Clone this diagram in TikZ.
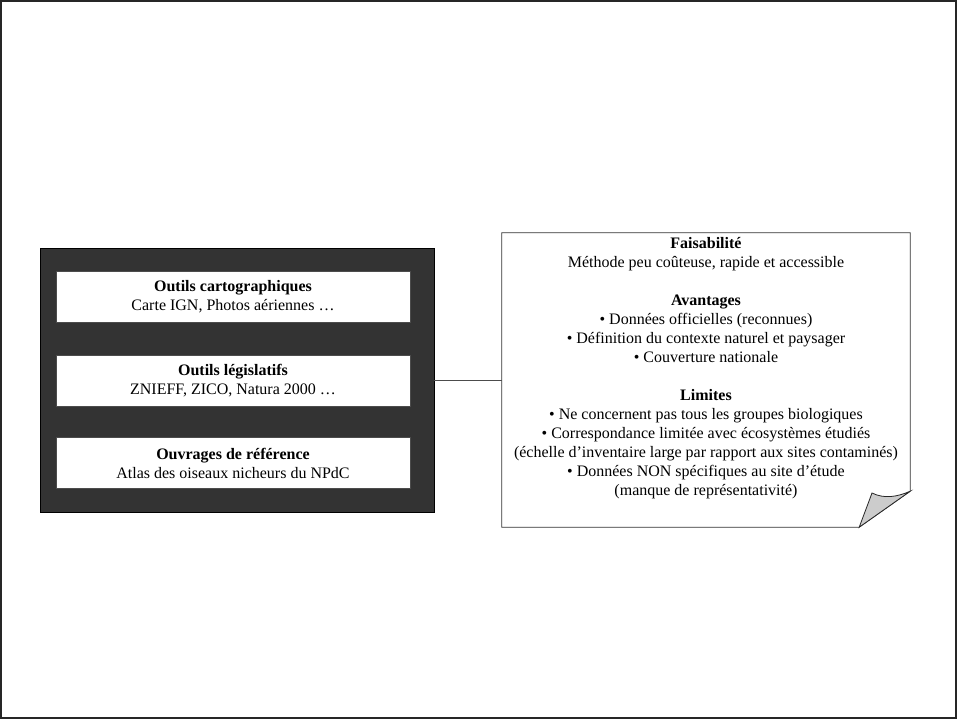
\documentclass[tikz,border=0pt]{standalone}
\usepackage{fontspec}
\setmainfont{Liberation Serif}
\usetikzlibrary{positioning}

\begin{document}
\begin{tikzpicture}[x=1pt, y=-1pt,
  panel/.style={rectangle, draw=black, fill=black!80, line width=0.8pt,
                minimum width=394pt, minimum height=264pt, inner sep=0pt},
  srcbox/.style={rectangle, draw=black!70, fill=white, align=center,
                 font=\fontsize{16}{19}\selectfont, inner sep=0pt,
                 minimum width=354pt, minimum height=51pt},
  notebox/.style={rectangle, draw=none, minimum width=408pt,
                  minimum height=294pt, inner sep=0pt},
  notetxt/.style={align=center, font=\fontsize{16}{19}\selectfont,
                  inner sep=0pt},
  link/.style={draw=black!70, line width=0.8pt},
]
\useasboundingbox (0,0) rectangle (957,719);

%% Slide frame
\draw[line width=2pt, black!85] (1,1) rectangle (956,718);

%% Left panel with the three sources
\node[panel] (panel) at (237, 380) {};

\node[srcbox] (carto) at (233, 296.5) {%
  \textbf{Outils cartographiques}\\
  Carte IGN, Photos aériennes …};
\node[srcbox] (legis) at (233, 380.5) {%
  \textbf{Outils législatifs}\\
  ZNIEFF, ZICO, Natura 2000 …};
\node[srcbox] (ouvr) at (233, 463) {%
  \textbf{Ouvrages de référence}\\
  Atlas des oiseaux nicheurs du NPdC};

%% Note sheet with folded corner (bottom right)
\node[notebox] (note) at (706, 380) {};
\coordinate (foldR) at ([yshift=36pt]note.south east);
\coordinate (foldB) at ([xshift=-51pt]note.south east);
\coordinate (foldIn) at (872, 493);

\draw[black!80, line width=0.8pt, fill=white]
  (note.north west) -- (note.north east) -- (foldR)
  -- (foldB) -- (note.south west) -- cycle;
\filldraw[fill=black!20, draw=black!85, line width=0.8pt]
  (foldB) -- (foldIn) .. controls (884, 499) and (897, 497) .. (foldR)
  -- cycle;

\node[notetxt] (notetext) at (706, 368) {%
  \textbf{Faisabilité}\\
  Méthode peu coûteuse, rapide et accessible\\[19pt]
  \textbf{Avantages}\\
  \textbullet{} Données officielles (reconnues)\\
  \textbullet{} Définition du contexte naturel et paysager\\
  \textbullet{} Couverture nationale\\[19pt]
  \textbf{Limites}\\
  \textbullet{} Ne concernent pas tous les groupes biologiques\\
  \textbullet{} Correspondance limitée avec écosystèmes étudiés\\
  (échelle d’inventaire large par rapport aux sites contaminés)\\
  \textbullet{} Données NON spécifiques au site d’étude\\
  (manque de représentativité)};

%% Link panel -> note
\draw[link] (panel.east) -- (note.west);

\end{tikzpicture}
\end{document}
